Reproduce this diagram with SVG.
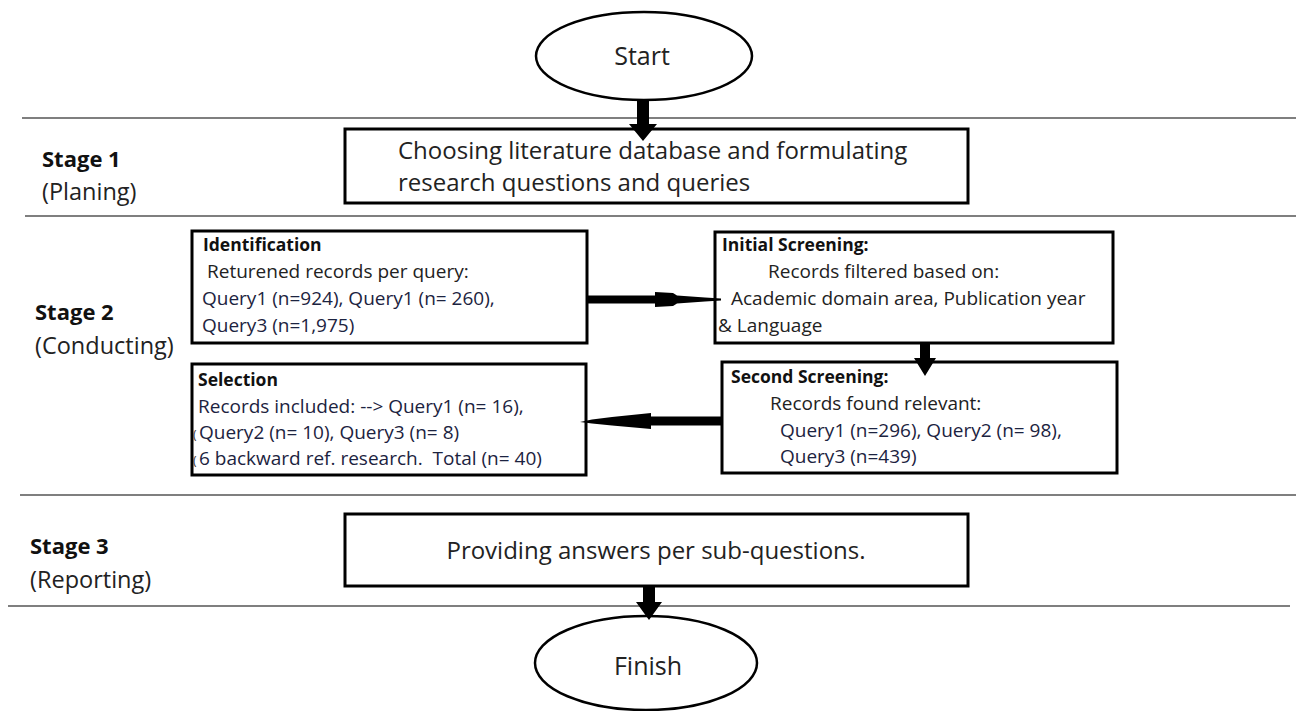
<svg xmlns="http://www.w3.org/2000/svg" width="1300" height="711" viewBox="0 0 1300 711">
  <style>
    .sep { stroke: #555; stroke-width: 1.5; fill: none; }
    .box { fill: #fff; stroke: #000; stroke-width: 3; }
    .oval { fill: #fff; stroke: #000; stroke-width: 2.5; }
    .arrow { fill: #000; stroke: none; }
    text { font-family: "Open Sans", "Liberation Sans", sans-serif; fill: #222; white-space: pre; }
    .stage { font-size: 23.5px; }
    .stage-b { font-size: 22px; font-weight: bold; fill: #111; }
    .big { font-size: 24px; }
    .oval-t { font-size: 25px; }
    .head { font-size: 17.5px; font-weight: bold; fill: #111; }
    .body { font-size: 19px; }
    .q { font-size: 19px; fill: #1c2340; }
    .paren { font-size: 12px; fill: #333; }
  </style>

  <rect width="1300" height="711" fill="#fff"/>

  <!-- stage separators -->
  <g id="separators">
    <line class="sep" x1="22" y1="118" x2="1296" y2="118"/>
    <line class="sep" x1="25" y1="216" x2="1296" y2="216"/>
    <line class="sep" x1="20" y1="495" x2="1296" y2="495"/>
    <line class="sep" x1="8" y1="606" x2="1290" y2="606"/>
  </g>

  <!-- stage labels -->
  <g id="stage-labels">
    <text class="stage-b" x="42" y="167">Stage 1</text>
    <text class="stage" x="42" y="200">(Planing)</text>
    <text class="stage-b" x="35" y="320">Stage 2</text>
    <text class="stage" x="35" y="354">(Conducting)</text>
    <text class="stage-b" x="30" y="554">Stage 3</text>
    <text class="stage" x="30" y="588">(Reporting)</text>
  </g>

  <!-- Start -->
  <g id="start">
    <ellipse class="oval" cx="644" cy="56" rx="108" ry="44"/>
    <text class="oval-t" x="642" y="65" text-anchor="middle">Start</text>
  </g>

  <!-- Stage 1 box -->
  <g id="planning">
    <rect class="box" x="345" y="129" width="623" height="74"/>
    <text class="big" x="398" y="159">Choosing literature database and formulating</text>
    <text class="big" x="398" y="191">research questions and queries</text>
  </g>

  <!-- Identification -->
  <g id="identification">
    <rect class="box" x="192" y="231" width="395" height="112"/>
    <text class="head" x="203" y="251">Identification</text>
    <text class="body" x="207" y="278">Returened records per query:</text>
    <text class="q" x="202" y="305">Query1 (n=924), Query1 (n= 260),</text>
    <text class="q" x="202" y="332">Query3 (n=1,975)</text>
  </g>

  <!-- Initial Screening -->
  <g id="initial-screening">
    <rect class="box" x="715" y="232" width="398" height="111"/>
    <text class="head" x="722" y="251">Initial Screening:</text>
    <text class="body" x="768" y="278">Records filtered based on:</text>
    <text class="body" x="731" y="305">Academic domain area, Publication year</text>
    <text class="body" x="718" y="332">&amp; Language</text>
  </g>

  <!-- Second Screening -->
  <g id="second-screening">
    <rect class="box" x="722" y="362" width="395" height="111"/>
    <text class="head" x="731" y="383">Second Screening:</text>
    <text class="body" x="770" y="410">Records found relevant:</text>
    <text class="q" x="780" y="437">Query1 (n=296), Query2 (n= 98),</text>
    <text class="q" x="780" y="463">Query3 (n=439)</text>
  </g>

  <!-- Selection -->
  <g id="selection">
    <rect class="box" x="192" y="364" width="394" height="111"/>
    <text class="head" x="198" y="386">Selection</text>
    <text class="q" x="198" y="413">Records included: --&gt; Query1 (n= 16),</text>
    <text class="q" x="193" y="439"><tspan class="paren">(</tspan><tspan x="199">Query2 (n= 10), Query3 (n= 8)</tspan></text>
    <text class="q" x="193" y="465"><tspan class="paren">(</tspan><tspan x="199">6 backward ref. research.  Total (n= 40)</tspan></text>
  </g>

  <!-- Stage 3 box -->
  <g id="reporting">
    <rect class="box" x="345" y="514" width="623" height="72"/>
    <text class="big" x="656" y="559" text-anchor="middle">Providing answers per sub-questions.</text>
  </g>

  <!-- Finish -->
  <g id="finish">
    <ellipse class="oval" cx="646" cy="663" rx="111" ry="47"/>
    <text class="oval-t" x="648" y="675" text-anchor="middle">Finish</text>
  </g>

  <!-- connectors, drawn last so the heads sit over the box edges -->
  <g id="connectors">
    <!-- Start to planning box -->
    <path class="arrow" d="M637,100 H649 V124 H657 L643,141 L629,124 H637 Z"/>
    <!-- Identification to Initial Screening -->
    <rect class="arrow" x="587" y="295.5" width="70" height="8"/>
    <polygon class="arrow" points="655,292 673,293 677,295.5 705,297.5 721,298.5 721,300.5 705,301.5 677,303.5 673,306 655,307"/>
    <!-- Initial Screening to Second Screening -->
    <path class="arrow" d="M920,343 H930 V358 H936 L925,376 L914,358 H920 Z"/>
    <!-- Second Screening to Selection -->
    <rect class="arrow" x="648" y="416.5" width="74" height="9"/>
    <polygon class="arrow" points="651,413 651,429 612,425.5 592,423.5 580,422 592,419.5 612,417"/>
    <!-- Reporting box to Finish -->
    <path class="arrow" d="M643,586 H655 V602 H662 L649,620 L636,602 H643 Z"/>
  </g>
</svg>
